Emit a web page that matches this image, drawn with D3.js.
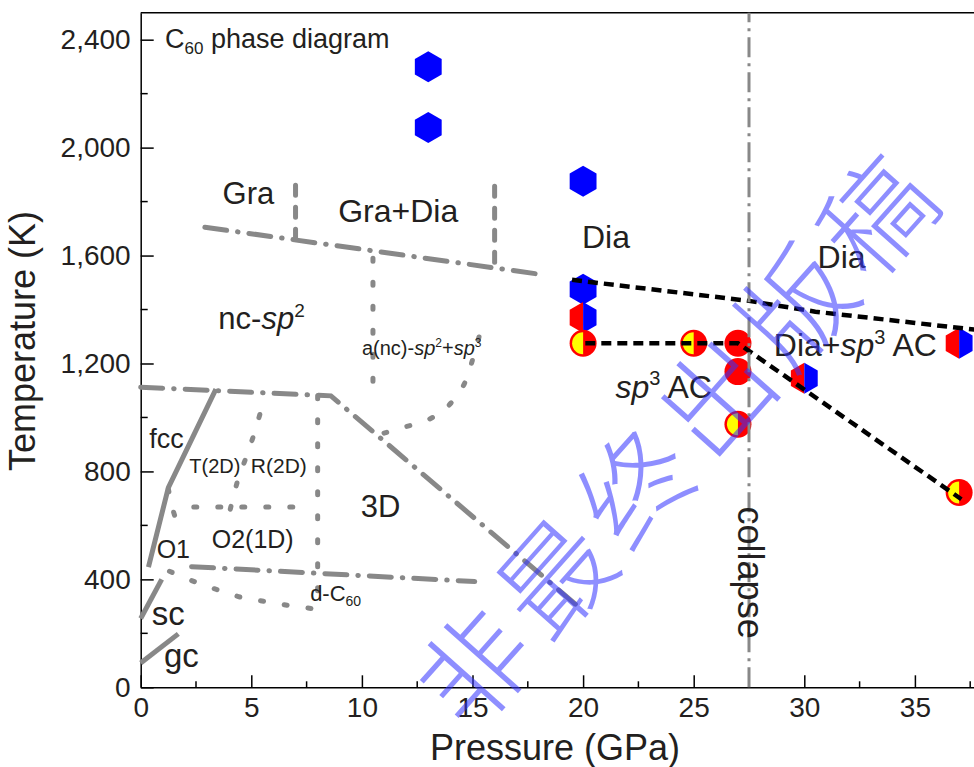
<!DOCTYPE html>
<html>
<head>
<meta charset="utf-8">
<script src="https://cdn.jsdelivr.net/npm/d3@7"></script>
<style>
body { margin: 0; background: #fff; }
text { font-family: "Liberation Sans", Arial, sans-serif; fill: #231f20; }
</style>
</head>
<body>
<div id="chart"></div>
<script>
// experimental points, [P (GPa), T (K)]
const blueHex = [[13, 2300], [13, 2075], [20, 1875], [20, 1475]];
const redBlueHex = [[20, 1370], [30, 1145], [37, 1275]];
const redDots = [[27, 1170], [27, 1275]];
const halfDots = [[20, 1275], [25, 1275], [27, 975], [37, 722]];

// black dashed boundaries drawn through the points
const diaBoundary = [[19.5, 1510], [27.5, 1432], [30.5, 1392], [38.5, 1318]];
const acBoundary = [[20.1, 1275], [27, 1275], [37.1, 697]];

// grey boundaries of the known C60 diagram
const dashDotLines = [
    [[2.9, 1705], [18.1, 1530]],
    [[0, 1112], [8.6, 1080], [19.7, 305]],
    [[2.3, 447], [15.1, 392]]
];
const dashedLines = [
    [[7, 1660], [7, 1895]],
    [[16, 1575], [16, 1900]]
];
const dottedLines = [
    [[10.5, 1590], [10.5, 1090]],
    [[2.4, 668], [7.3, 668]],
    [[8, 1080], [8, 290]]
];
const dottedCurves = [
    [[11.0, 942], [11.8, 962], [12.9, 988], [13.8, 1035], [14.55, 1112], [14.95, 1200], [15.3, 1300]],
    [[1.25, 735], [1.45, 660], [1.7, 595]],
    [[4.05, 660], [4.4, 770], [4.8, 860], [5.15, 945], [5.45, 1030]],
    [[1.3, 430], [2.6, 386], [3.6, 358], [4.7, 330], [5.9, 315], [6.9, 300], [8, 290]]
];
const solidLines = [
    [[0.35, 445], [1.25, 740], [3.4, 1105]],
    [[0, 255], [0.95, 400]],
    [[0, 90], [1.7, 198]]
];
const collapseP = 27.5;

const pressureTicks = [0, 5, 10, 15, 20, 25, 30, 35];
const tempTicks = [0, 400, 800, 1200, 1600, 2000, 2400];

// region names, anchored at [P, T]
const labels = [
    {p: 1.1, t: 2368, size: 27, parts: [["C", ""], ["60", "sub"], [" phase diagram", ""]]},
    {p: 3.7, t: 1792, size: 31, parts: [["Gra", ""]]},
    {p: 8.93, t: 1726, size: 32, parts: [["Gra+Dia", ""]]},
    {p: 19.95, t: 1628, size: 32, parts: [["Dia", ""]]},
    {p: 30.6, t: 1553, size: 32, parts: [["Dia", ""]]},
    {p: 3.51, t: 1327, size: 31, parts: [["nc-", ""], ["sp", "i"], ["2", "sup"]]},
    {p: 10.0, t: 1232, size: 20, parts: [["a(nc)-", ""], ["sp", "i"], ["2", "sup"], ["+", ""], ["sp", "i"], ["3", "sup"]]},
    {p: 0.39, t: 886, size: 27, parts: [["fcc", ""]]},
    {p: 2.2, t: 793, size: 20, parts: [["T(2D)", ""]]},
    {p: 4.98, t: 793, size: 21, parts: [["R(2D)", ""]]},
    {p: 9.95, t: 630, size: 31, parts: [["3D", ""]]},
    {p: 0.72, t: 478, size: 25, parts: [["O1", ""]]},
    {p: 3.21, t: 515, size: 25, parts: [["O2(1D)", ""]]},
    {p: 7.66, t: 321, size: 22, parts: [["d-C", ""], ["60", "sub"]]},
    {p: 0.5, t: 231, size: 33, parts: [["sc", ""]]},
    {p: 1.05, t: 76, size: 33, parts: [["gc", ""]]},
    {p: 21.46, t: 1072, size: 32, parts: [["sp", "i"], ["3", "sup"], [" AC", ""]]},
    {p: 28.62, t: 1226, size: 32, parts: [["Dia+", ""], ["sp", "i"], ["3", "sup"], [" AC", ""]]}
];

const watermark = ["非", "最", "终", "出", "版", "稿"];

const width = 974, height = 767;
const grey = "#888888";

const svg = d3.select("#chart")
    .append("svg")
    .attr("width", width)
    .attr("height", height);

const x = d3.scaleLinear().domain([0, 40]).range([140.7, 140.7 + 40 * 22.12]);
const y = d3.scaleLinear().domain([0, 2500]).range([687.3, 12.7]);

// frame and axes, ticks pointing inward
svg.append("line")
    .attr("x1", x(0)).attr("x2", x(40))
    .attr("y1", y(2500)).attr("y2", y(2500))
    .attr("stroke", "#000").attr("stroke-width", 1.5);

const xAxis = svg.append("g")
    .attr("transform", `translate(0,${y(0)})`)
    .call(d3.axisBottom(x).tickValues(pressureTicks).tickSizeInner(-12).tickSizeOuter(0).tickPadding(10));
xAxis.append("g")
    .selectAll("line")
    .data(d3.range(2.5, 40, 5))
    .join("line")
    .attr("x1", d => x(d)).attr("x2", d => x(d))
    .attr("y1", 0).attr("y2", -6)
    .attr("stroke", "#000").attr("stroke-width", 1.5);

const yAxis = svg.append("g")
    .attr("transform", `translate(${x(0)},0)`)
    .call(d3.axisLeft(y).tickValues(tempTicks).tickFormat(d3.format(",")).tickSizeInner(-13).tickSizeOuter(0).tickPadding(10));
yAxis.append("g")
    .selectAll("line")
    .data(d3.range(200, 2500, 400))
    .join("line")
    .attr("y1", d => y(d)).attr("y2", d => y(d))
    .attr("x1", 0).attr("x2", 7)
    .attr("stroke", "#000").attr("stroke-width", 1.5);

svg.selectAll(".domain, .tick line").attr("stroke", "#000").attr("stroke-width", 1.5);
svg.selectAll(".tick text")
    .style("font-family", "'Liberation Sans', Arial, sans-serif")
    .style("font-size", "28px")
    .attr("fill", "#231f20");

svg.append("text")
    .attr("x", 555)
    .attr("y", 760)
    .attr("text-anchor", "middle")
    .style("font-size", "36px")
    .text("Pressure (GPa)");

svg.append("text")
    .attr("transform", "translate(35,341) rotate(-90)")
    .attr("text-anchor", "middle")
    .style("font-size", "36px")
    .text("Temperature (K)");

// grey phase boundaries
const line = d3.line().x(d => x(d[0])).y(d => y(d[1]));
const curve = d3.line().x(d => x(d[0])).y(d => y(d[1])).curve(d3.curveCatmullRom);

const bounds = svg.append("g")
    .attr("fill", "none")
    .attr("stroke", grey)
    .attr("stroke-width", 5);

bounds.selectAll(".dd")
    .data(dashDotLines)
    .join("path")
    .attr("d", line)
    .attr("stroke-linecap", "round")
    .attr("stroke-dasharray", "22 11 0.5 11");

bounds.selectAll(".dash")
    .data(dashedLines)
    .join("path")
    .attr("d", line)
    .attr("stroke-linecap", "round")
    .attr("stroke-dasharray", "10 12");

bounds.selectAll(".dot")
    .data(dottedLines)
    .join("path")
    .attr("d", line)
    .attr("stroke-linecap", "round")
    .attr("stroke-dasharray", "3 21");

bounds.selectAll(".dotc")
    .data(dottedCurves)
    .join("path")
    .attr("d", curve)
    .attr("stroke-linecap", "round")
    .attr("stroke-dasharray", "3 21");

bounds.selectAll(".solid")
    .data(solidLines)
    .join("path")
    .attr("d", line);

// labels
function addLabel(d) {
    const t = svg.append("text")
        .attr("x", x(d.p))
        .attr("y", y(d.t))
        .style("font-size", d.size + "px");
    let shift = 0;
    d.parts.forEach(([s, k]) => {
        const ts = t.append("tspan").text(s);
        let target = 0;
        if (k === "sup") target = -0.4 * d.size;
        if (k === "sub") target = 0.22 * d.size;
        if (target !== shift) {
            ts.attr("dy", target - shift);
            shift = target;
        }
        if (k === "i") ts.style("font-style", "italic");
        if (k === "sup" || k === "sub") ts.style("font-size", Math.round(d.size * 0.62) + "px");
    });
}
labels.forEach(addLabel);

// markers
const hexR = 15.5;
const hexPts = d3.range(6).map(i => {
    const a = (-90 + 60 * i) * Math.PI / 180;
    return [hexR * Math.cos(a), hexR * Math.sin(a)];
});
const hexPath = "M" + hexPts.join("L") + "Z";
const hexLeft = "M" + [hexPts[0], hexPts[5], hexPts[4], hexPts[3]].join("L") + "Z";
const hexRight = "M" + [hexPts[0], hexPts[1], hexPts[2], hexPts[3]].join("L") + "Z";

svg.append("g")
    .selectAll("path")
    .data(blueHex)
    .join("path")
    .attr("transform", d => `translate(${x(d[0])},${y(d[1])})`)
    .attr("d", hexPath)
    .attr("fill", "#0000ff");

const rb = svg.append("g")
    .selectAll("g")
    .data(redBlueHex)
    .join("g")
    .attr("transform", d => `translate(${x(d[0])},${y(d[1])})`);
rb.append("path").attr("d", hexLeft).attr("fill", "#ff0000");
rb.append("path").attr("d", hexRight).attr("fill", "#0000ff");

svg.append("g")
    .selectAll("circle")
    .data(redDots)
    .join("circle")
    .attr("cx", d => x(d[0]))
    .attr("cy", d => y(d[1]))
    .attr("r", 13.5)
    .attr("fill", "#ff0000");

const halfArc = d3.arc().innerRadius(0).outerRadius(11).startAngle(Math.PI).endAngle(2 * Math.PI);
const hd = svg.append("g")
    .selectAll("g")
    .data(halfDots)
    .join("g")
    .attr("transform", d => `translate(${x(d[0])},${y(d[1])})`);
hd.append("circle").attr("r", 13.5).attr("fill", "#ff0000");
hd.append("path").attr("d", halfArc()).attr("fill", "#ffff00");

// black dashed boundaries
svg.append("g")
    .selectAll("path")
    .data([diaBoundary, acBoundary])
    .join("path")
    .attr("d", line)
    .attr("fill", "none")
    .attr("stroke", "#000")
    .attr("stroke-width", 4.5)
    .attr("stroke-dasharray", "10 6");

// collapse line
svg.append("line")
    .attr("x1", x(collapseP)).attr("x2", x(collapseP))
    .attr("y1", y(0)).attr("y2", y(2500))
    .attr("stroke", grey)
    .attr("stroke-width", 3)
    .attr("stroke-dasharray", "20 6 3 6");

svg.append("text")
    .attr("transform", `translate(${x(collapseP) - 11},${y(425)}) rotate(90)`)
    .attr("text-anchor", "middle")
    .style("font-size", "36px")
    .text("collapse");

// draft watermark, one glyph at a time along a diagonal
const wmAngle = -48.3, wmStep = 121;
const wmDir = [Math.cos(wmAngle * Math.PI / 180), Math.sin(wmAngle * Math.PI / 180)];
svg.append("g")
    .selectAll("text")
    .data(watermark)
    .join("text")
    .attr("transform", (d, i) => {
        const k = (i - 2.5) * wmStep;
        return `translate(${677 + k * wmDir[0]},${443 + k * wmDir[1]}) rotate(${wmAngle})`;
    })
    .attr("text-anchor", "middle")
    .attr("dy", "0.36em")
    .style("font-family", "'Noto Sans CJK SC', sans-serif")
    .style("font-weight", 200)
    .style("font-size", "110px")
    .style("fill", "#3333ff")
    .style("opacity", 0.55)
    .text(d => d);
</script>
</body>
</html>
